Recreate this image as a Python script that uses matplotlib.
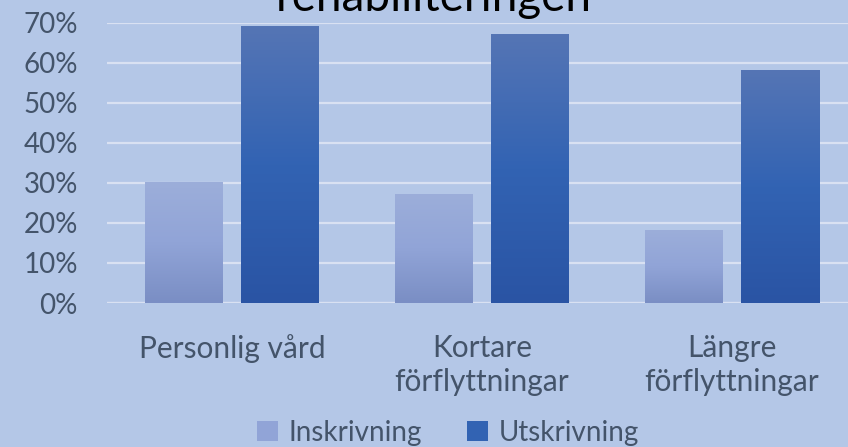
"""
Andel självständiga vid in- och utskrivning, grupperade staplar
"""
import numpy as np
import matplotlib
matplotlib.use("Agg")
import matplotlib.pyplot as plt
from matplotlib.colors import LinearSegmentedColormap
from matplotlib.patches import Patch

categories = ["Personlig vård", "Kortare\nförflyttningar", "Längre\nförflyttningar"]
inskrivning = [0.30, 0.27, 0.18]
utskrivning = [0.69, 0.67, 0.58]
series_names = ["Inskrivning", "Utskrivning"]
yticks = [0, 0.1, 0.2, 0.3, 0.4, 0.5, 0.6, 0.7]
title = "rehabiliteringen"

BG = "#B4C7E7"
GRID = "#D9E1F2"
TXT = "#44546A"
ins_cols = ["#9CAEDA", "#91A4D7", "#7A8EC4"]   # top, mid, bottom
uts_cols = ["#5575B5", "#3263B3", "#2A54A4"]

plt.rcParams["font.family"] = ["Lato", "DejaVu Sans"]

W, H = 848, 447
fig = plt.figure(figsize=(W / 100, H / 100), dpi=100, facecolor=BG)
left, right, bottom, top = 107, 857, 303, 22.5
ax = fig.add_axes([left / W, 1 - bottom / H, (right - left) / W, (bottom - top) / H])
ax.set_facecolor(BG)

x = np.arange(len(categories))
width = 78 / 250
offset = 48 / 250


def grad_bar(ax, xc, h, cols):
    cmap = LinearSegmentedColormap.from_list("g", cols[::-1])
    grad = np.linspace(0, 1, 256).reshape(-1, 1)
    ax.imshow(grad, cmap=cmap, origin="lower", aspect="auto",
              extent=[xc - width / 2, xc + width / 2, 0, h], zorder=3,
              interpolation="bilinear")


for i in range(len(categories)):
    grad_bar(ax, x[i] - offset, inskrivning[i], ins_cols)
    grad_bar(ax, x[i] + offset, utskrivning[i], uts_cols)

ax.set_xlim(-0.5, len(categories) - 0.5)
ax.set_ylim(0, 0.7)
ax.set_yticks(yticks)
ax.set_yticklabels([f"{int(round(v * 100))}%" for v in yticks])
ax.set_xticks(x)
ax.set_xticklabels(categories, linespacing=1.3)
ax.yaxis.grid(True, color=GRID, linewidth=1.6, zorder=0)
ax.set_axisbelow(True)
for s in ax.spines.values():
    s.set_visible(False)
ax.tick_params(axis="y", length=0, pad=21, labelsize=20, labelcolor=TXT)
ax.tick_params(axis="x", length=0, pad=22, labelsize=21.5, labelcolor=TXT)
ax.axhline(0, color=GRID, linewidth=1.6, zorder=1)

fig.text(0.512, 1 - 11 / H, title, ha="center", va="baseline",
         fontsize=33, color="black")

handles = [Patch(facecolor=ins_cols[1], edgecolor="none"),
           Patch(facecolor=uts_cols[1], edgecolor="none")]
fig.legend(handles, series_names, loc="center", bbox_to_anchor=(448 / W, 1 - 433 / H),
           ncol=2, frameon=False, fontsize=20, labelcolor=TXT,
           handlelength=0.75, handleheight=0.75, handletextpad=0.4, columnspacing=1.6)

fig.savefig("out.png", dpi=100, facecolor=BG)
